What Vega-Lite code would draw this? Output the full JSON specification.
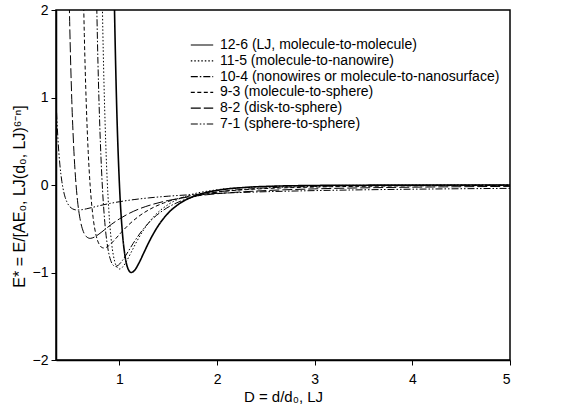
{
  "$schema": "https://vega.github.io/schema/vega-lite/v6.json",
  "width": 454,
  "height": 350,
  "autosize": {"type": "none"},
  "padding": {"left": 56, "top": 10, "right": 62, "bottom": 58},
  "background": "white",
  "config": {
    "view": {"stroke": "black", "strokeWidth": 1.5},
    "font": "Liberation Sans",
    "axis": {
      "grid": false,
      "domainColor": "black",
      "domainWidth": 1.5,
      "tickColor": "black",
      "tickWidth": 1,
      "tickSize": 5,
      "labelFont": "Liberation Sans",
      "labelFontSize": 14,
      "labelColor": "black",
      "titleFont": "Liberation Sans",
      "titleFontSize": 15,
      "titleFontWeight": "normal",
      "titleColor": "black"
    },
    "legend": {
      "orient": "none",
      "legendX": 138,
      "legendY": 27,
      "padding": 0,
      "symbolType": "M-1.6,0L1.6,0",
      "symbolSize": 196,
      "symbolStrokeColor": "black",
      "symbolStrokeWidth": 1.2,
      "symbolFillColor": "transparent",
      "labelFont": "Liberation Sans",
      "labelFontSize": 14,
      "labelColor": "black",
      "labelOffset": 10,
      "rowPadding": 0.8,
      "labelLimit": 400
    }
  },
  "datasets": {
    "names": [
      {"p": "12-6", "name": "12-6 (LJ, molecule-to-molecule)"},
      {"p": "11-5", "name": "11-5 (molecule-to-nanowire)"},
      {"p": "10-4", "name": "10-4 (nonowires or molecule-to-nanosurface)"},
      {"p": "9-3", "name": "9-3 (molecule-to-sphere)"},
      {"p": "8-2", "name": "8-2 (disk-to-sphere)"},
      {"p": "7-1", "name": "7-1 (sphere-to-sphere)"}
    ]
  },
  "data": {
    "values": [
      {"p": "12-6", "D": 0.93, "E": 3.373}, {"p": "12-6", "D": 0.95, "E": 1.961}, {"p": "12-6", "D": 0.97, "E": 0.963},
      {"p": "12-6", "D": 1.0, "E": 0}, {"p": "12-6", "D": 1.03, "E": -0.544}, {"p": "12-6", "D": 1.06, "E": -0.832},
      {"p": "12-6", "D": 1.09, "E": -0.963}, {"p": "12-6", "D": 1.12, "E": -1.0}, {"p": "12-6", "D": 1.16, "E": -0.968},
      {"p": "12-6", "D": 1.2, "E": -0.891}, {"p": "12-6", "D": 1.25, "E": -0.774}, {"p": "12-6", "D": 1.3, "E": -0.657},
      {"p": "12-6", "D": 1.4, "E": -0.461}, {"p": "12-6", "D": 1.5, "E": -0.32}, {"p": "12-6", "D": 1.6, "E": -0.224},
      {"p": "12-6", "D": 1.8, "E": -0.114}, {"p": "12-6", "D": 2.0, "E": -0.0615}, {"p": "12-6", "D": 2.3, "E": -0.0268},
      {"p": "12-6", "D": 2.6, "E": -0.0129}, {"p": "12-6", "D": 3.0, "E": -0.0055}, {"p": "12-6", "D": 3.5, "E": -0.0022},
      {"p": "12-6", "D": 4.0, "E": -0.001}, {"p": "12-6", "D": 5.0, "E": -0.0003},

      {"p": "11-5", "D": 0.8, "E": 3.94}, {"p": "11-5", "D": 0.83, "E": 1.744}, {"p": "11-5", "D": 0.86, "E": 0.462},
      {"p": "11-5", "D": 0.89, "E": -0.269}, {"p": "11-5", "D": 0.92, "E": -0.669}, {"p": "11-5", "D": 0.95, "E": -0.868},
      {"p": "11-5", "D": 0.98, "E": -0.948}, {"p": "11-5", "D": 1.0, "E": -0.96}, {"p": "11-5", "D": 1.03, "E": -0.94},
      {"p": "11-5", "D": 1.07, "E": -0.875}, {"p": "11-5", "D": 1.12, "E": -0.769}, {"p": "11-5", "D": 1.18, "E": -0.64},
      {"p": "11-5", "D": 1.25, "E": -0.508}, {"p": "11-5", "D": 1.35, "E": -0.363}, {"p": "11-5", "D": 1.5, "E": -0.2225},
      {"p": "11-5", "D": 1.7, "E": -0.1216}, {"p": "11-5", "D": 2.0, "E": -0.0546}, {"p": "11-5", "D": 2.4, "E": -0.0221},
      {"p": "11-5", "D": 3.0, "E": -0.0072}, {"p": "11-5", "D": 3.7, "E": -0.0025}, {"p": "11-5", "D": 4.4, "E": -0.0011},
      {"p": "11-5", "D": 5.0, "E": -0.0006},

      {"p": "10-4", "D": 0.76, "E": 2.466}, {"p": "10-4", "D": 0.78, "E": 1.388}, {"p": "10-4", "D": 0.8, "E": 0.625},
      {"p": "10-4", "D": 0.82, "E": 0.087}, {"p": "10-4", "D": 0.85, "E": -0.428}, {"p": "10-4", "D": 0.88, "E": -0.715},
      {"p": "10-4", "D": 0.91, "E": -0.861}, {"p": "10-4", "D": 0.94, "E": -0.921}, {"p": "10-4", "D": 0.96, "E": -0.93},
      {"p": "10-4", "D": 0.99, "E": -0.915}, {"p": "10-4", "D": 1.03, "E": -0.863}, {"p": "10-4", "D": 1.08, "E": -0.777},
      {"p": "10-4", "D": 1.14, "E": -0.668}, {"p": "10-4", "D": 1.22, "E": -0.538}, {"p": "10-4", "D": 1.32, "E": -0.408},
      {"p": "10-4", "D": 1.45, "E": -0.288}, {"p": "10-4", "D": 1.6, "E": -0.197}, {"p": "10-4", "D": 1.8, "E": -0.124},
      {"p": "10-4", "D": 2.0, "E": -0.0819}, {"p": "10-4", "D": 2.4, "E": -0.0396}, {"p": "10-4", "D": 3.0, "E": -0.0163},
      {"p": "10-4", "D": 3.7, "E": -0.007}, {"p": "10-4", "D": 4.4, "E": -0.0035}, {"p": "10-4", "D": 5.0, "E": -0.0021},

      {"p": "9-3", "D": 0.62, "E": 2.852}, {"p": "9-3", "D": 0.64, "E": 1.719}, {"p": "9-3", "D": 0.66, "E": 0.928},
      {"p": "9-3", "D": 0.68, "E": 0.375}, {"p": "9-3", "D": 0.7, "E": -0.009}, {"p": "9-3", "D": 0.73, "E": -0.372},
      {"p": "9-3", "D": 0.76, "E": -0.572}, {"p": "9-3", "D": 0.79, "E": -0.673}, {"p": "9-3", "D": 0.82, "E": -0.714},
      {"p": "9-3", "D": 0.84, "E": -0.72}, {"p": "9-3", "D": 0.87, "E": -0.71}, {"p": "9-3", "D": 0.91, "E": -0.674},
      {"p": "9-3", "D": 0.96, "E": -0.615}, {"p": "9-3", "D": 1.02, "E": -0.54}, {"p": "9-3", "D": 1.1, "E": -0.449},
      {"p": "9-3", "D": 1.2, "E": -0.356}, {"p": "9-3", "D": 1.32, "E": -0.272}, {"p": "9-3", "D": 1.45, "E": -0.207},
      {"p": "9-3", "D": 1.6, "E": -0.155}, {"p": "9-3", "D": 1.8, "E": -0.109}, {"p": "9-3", "D": 2.0, "E": -0.0799},
      {"p": "9-3", "D": 2.4, "E": -0.0463}, {"p": "9-3", "D": 3.0, "E": -0.0237}, {"p": "9-3", "D": 3.7, "E": -0.0126},
      {"p": "9-3", "D": 4.4, "E": -0.0075}, {"p": "9-3", "D": 5.0, "E": -0.0051},

      {"p": "8-2", "D": 0.47, "E": 3.119}, {"p": "8-2", "D": 0.49, "E": 1.868}, {"p": "8-2", "D": 0.51, "E": 1.029},
      {"p": "8-2", "D": 0.53, "E": 0.464}, {"p": "8-2", "D": 0.55, "E": 0.0825}, {"p": "8-2", "D": 0.57, "E": -0.175},
      {"p": "8-2", "D": 0.6, "E": -0.409}, {"p": "8-2", "D": 0.63, "E": -0.532}, {"p": "8-2", "D": 0.66, "E": -0.589},
      {"p": "8-2", "D": 0.7, "E": -0.61}, {"p": "8-2", "D": 0.74, "E": -0.597}, {"p": "8-2", "D": 0.79, "E": -0.561},
      {"p": "8-2", "D": 0.85, "E": -0.509}, {"p": "8-2", "D": 0.92, "E": -0.448}, {"p": "8-2", "D": 1.0, "E": -0.387},
      {"p": "8-2", "D": 1.1, "E": -0.324}, {"p": "8-2", "D": 1.2, "E": -0.274}, {"p": "8-2", "D": 1.35, "E": -0.218},
      {"p": "8-2", "D": 1.5, "E": -0.177}, {"p": "8-2", "D": 1.7, "E": -0.138}, {"p": "8-2", "D": 2.0, "E": -0.0996},
      {"p": "8-2", "D": 2.4, "E": -0.0692}, {"p": "8-2", "D": 3.0, "E": -0.0443}, {"p": "8-2", "D": 3.7, "E": -0.0291},
      {"p": "8-2", "D": 4.4, "E": -0.0206}, {"p": "8-2", "D": 5.0, "E": -0.0159},

      {"p": "7-1", "D": 0.33, "E": 1.744}, {"p": "7-1", "D": 0.35, "E": 0.9915}, {"p": "7-1", "D": 0.37, "E": 0.525},
      {"p": "7-1", "D": 0.39, "E": 0.2297}, {"p": "7-1", "D": 0.41, "E": 0.0407}, {"p": "7-1", "D": 0.43, "E": -0.0818},
      {"p": "7-1", "D": 0.46, "E": -0.19}, {"p": "7-1", "D": 0.49, "E": -0.2455}, {"p": "7-1", "D": 0.52, "E": -0.2726},
      {"p": "7-1", "D": 0.55, "E": -0.2838}, {"p": "7-1", "D": 0.575, "E": -0.286}, {"p": "7-1", "D": 0.61, "E": -0.283},
      {"p": "7-1", "D": 0.66, "E": -0.2725}, {"p": "7-1", "D": 0.72, "E": -0.2566}, {"p": "7-1", "D": 0.8, "E": -0.2351},
      {"p": "7-1", "D": 0.9, "E": -0.2111}, {"p": "7-1", "D": 1.0, "E": -0.1909}, {"p": "7-1", "D": 1.15, "E": -0.1665},
      {"p": "7-1", "D": 1.3, "E": -0.1474}, {"p": "7-1", "D": 1.5, "E": -0.1278}, {"p": "7-1", "D": 1.75, "E": -0.1096},
      {"p": "7-1", "D": 2.0, "E": -0.0959}, {"p": "7-1", "D": 2.4, "E": -0.0799}, {"p": "7-1", "D": 3.0, "E": -0.064},
      {"p": "7-1", "D": 3.7, "E": -0.0519}, {"p": "7-1", "D": 4.4, "E": -0.0436}, {"p": "7-1", "D": 5.0, "E": -0.0384}
    ]
  },
  "transform": [
    {"lookup": "p", "from": {"data": {"name": "names"}, "key": "p", "fields": ["name"]}}
  ],
  "mark": {"type": "line", "clip": true, "interpolate": "monotone", "color": "black"},
  "encoding": {
    "x": {
      "field": "D", "type": "quantitative",
      "scale": {"domain": [0.35, 5], "nice": false, "zero": false},
      "axis": {"values": [1, 2, 3, 4, 5], "title": "D = d/d₀, LJ", "labelPadding": 7, "titlePadding": 3}
    },
    "y": {
      "field": "E", "type": "quantitative",
      "scale": {"domain": [-2, 2], "nice": false},
      "axis": {"values": [-2, -1, 0, 1, 2], "title": "E* = E/[AE₀, LJ(d₀, LJ)⁶⁻ⁿ]", "titleFontSize": 16, "titleY": 186, "labelPadding": 3, "titlePadding": 5}
    },
    "strokeDash": {
      "field": "name", "type": "nominal",
      "scale": {
        "domain": [
          "12-6 (LJ, molecule-to-molecule)",
          "11-5 (molecule-to-nanowire)",
          "10-4 (nonowires or molecule-to-nanosurface)",
          "9-3 (molecule-to-sphere)",
          "8-2 (disk-to-sphere)",
          "7-1 (sphere-to-sphere)"
        ],
        "range": [[1, 0], [1.5, 2], [7, 2, 1.5, 2], [4, 2.5], [10, 3], [7, 2, 1.5, 2, 1.5, 2]]
      },
      "legend": {"title": null}
    },
    "strokeWidth": {"condition": {"test": "datum.p === '12-6'", "value": 1.6}, "value": 1},
    "order": {"field": "D", "type": "quantitative"}
  }
}
